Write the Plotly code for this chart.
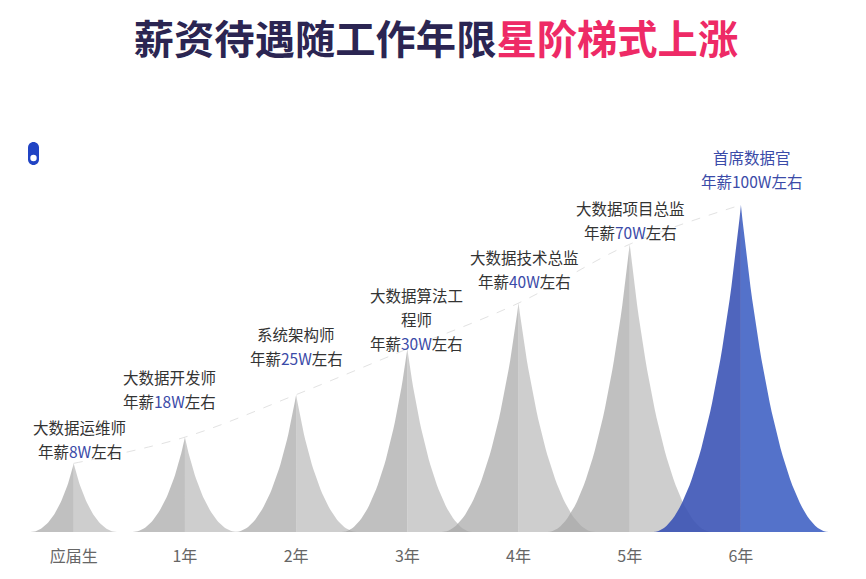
import plotly.graph_objects as go

# ---------------- data ----------------
categories = ["应届生", "1年", "2年", "3年", "4年", "5年", "6年"]
spike_values = [21, 29, 42, 56, 70, 88, 100]
job_titles = [["大数据运维师"], ["大数据开发师"], ["系统架构师"], ["大数据算法工", "程师"],
              ["大数据技术总监"], ["大数据项目总监"], ["首席数据官"]]
salaries = ["8W", "18W", "25W", "30W", "40W", "70W", "100W"]

# ---------------- style ----------------
half_widths = [0.39, 0.47, 0.55, 0.59, 0.69, 0.74, 0.79]
label_dx = [6, -15, 0, 9, 6, 1, 11]
label_dy = [12, 36, 37, 6, 22, 12, 24]
LINE_STEP = 24
gray_left, gray_right = "rgba(165,165,165,0.70)", "rgba(180,180,180,0.65)"
blue_left, blue_right = "rgba(55,80,180,0.88)", "rgba(60,95,195,0.88)"
TEXT = "#333333"
NUM = "#3b4ba8"
FONT = "Noto Sans CJK SC"

L, R, T, B = 7, 25, 90, 47
W, H = 866, 579
PW, PH = W - L - R, H - T - B
XR = [-0.6, 6.9]
YR = [0, 100 * PH / 327]


def bez(p0, p1, p2, p3, n=40):
    pts = []
    for k in range(n + 1):
        t = k / n
        a, b, c, d = (1 - t) ** 3, 3 * (1 - t) ** 2 * t, 3 * (1 - t) * t ** 2, t ** 3
        pts.append((a * p0[0] + b * p1[0] + c * p2[0] + d * p3[0],
                    a * p0[1] + b * p1[1] + c * p2[1] + d * p3[1]))
    return pts


# normalised right edge: (offset / half width, height fraction)
edge = bez((1, 0), (0.58, 0), (0.22, 0.42), (0, 1))

fig = go.Figure()

# faint dashed connecting line through the tips
fig.add_trace(go.Scatter(x=list(range(len(categories))), y=spike_values, mode="lines",
                         line=dict(shape="spline", dash="dash", color="#e2e2e2", width=1),
                         hoverinfo="skip", showlegend=False))

for i, v in enumerate(spike_values):
    hw = half_widths[i]
    last = i == len(spike_values) - 1
    cl, cr = (blue_left, blue_right) if last else (gray_left, gray_right)
    xr = [i] + [i + hw * e[0] for e in edge] + [i]
    yr = [0] + [v * e[1] for e in edge] + [0]
    xl = [i] + [i - hw * e[0] for e in edge] + [i]
    fig.add_trace(go.Scatter(x=xl, y=yr, fill="toself", fillcolor=cl, mode="lines",
                             line=dict(width=0), hoverinfo="skip", showlegend=False))
    fig.add_trace(go.Scatter(x=xr, y=yr, fill="toself", fillcolor=cr, mode="lines",
                             line=dict(width=0), hoverinfo="skip", showlegend=False))

# labels
for i, v in enumerate(spike_values):
    last = i == len(spike_values) - 1
    col = NUM if last else TEXT
    lines = list(job_titles[i]) + [f"年薪<span style='color:{NUM}'>{salaries[i]}</span>左右"]
    for k, txt in enumerate(reversed(lines)):
        fig.add_annotation(x=i, y=v, xref="x", yref="y", text=txt, showarrow=False,
                           xanchor="center", yanchor="middle",
                           xshift=label_dx[i], yshift=label_dy[i] + k * LINE_STEP,
                           font=dict(family=FONT, size=15.5, color=col))


def px2paper(px, py):
    return (px - L) / PW, (H - B - py) / PH


# small capsule icon at top-left
kk = 0.5523
r = 5.5
cx, top, bot = 33.5, 142, 165
pts = [("M", (cx - r, top + r)),
       ("C", (cx - r, top + r - kk * r), (cx - kk * r, top), (cx, top)),
       ("C", (cx + kk * r, top), (cx + r, top + r - kk * r), (cx + r, top + r)),
       ("L", (cx + r, bot - r)),
       ("C", (cx + r, bot - r + kk * r), (cx + kk * r, bot), (cx, bot)),
       ("C", (cx - kk * r, bot), (cx - r, bot - r + kk * r), (cx - r, bot - r))]
path = ""
for cmd, *ps in pts:
    path += cmd + " ".join("%.5f,%.5f" % px2paper(*p) for p in ps) + " "
path += "Z"
fig.add_shape(type="path", path=path, xref="paper", yref="paper",
              fillcolor="#2144c4", line=dict(width=0), layer="above")
x0, y0 = px2paper(cx - 3.2, 158 + 3.2)
x1, y1 = px2paper(cx + 3.2, 158 - 3.2)
fig.add_shape(type="circle", x0=x0, y0=y0, x1=x1, y1=y1, xref="paper", yref="paper",
              fillcolor="white", line=dict(width=0), layer="above")

fig.update_layout(
    width=W, height=H,
    margin=dict(l=L, r=R, t=T, b=B, autoexpand=False),
    plot_bgcolor="white", paper_bgcolor="white",
    showlegend=False,
    title=dict(text="<b>薪资待遇随工作年限<span style='color:#ee2a66'>星阶梯式上涨</span></b>",
               x=436 / W, xanchor="center", y=1 - 40 / H, yanchor="middle", yref="container",
               font=dict(family=FONT, size=40.3, color="#2b2552", weight=900)),
    xaxis=dict(range=XR, tickmode="array", tickvals=list(range(len(categories))),
               ticktext=categories, showgrid=False, zeroline=False, showline=False,
               ticks="", ticklabelstandoff=13, automargin=False,
               tickfont=dict(family=FONT, size=16, color="#666666"), fixedrange=True),
    yaxis=dict(range=YR, visible=False, showgrid=False, zeroline=False, fixedrange=True),
)

fig.write_html("out.html", config={"displayModeBar": False},
               post_script="document.body.style.margin='0';document.body.style.padding='0';")
